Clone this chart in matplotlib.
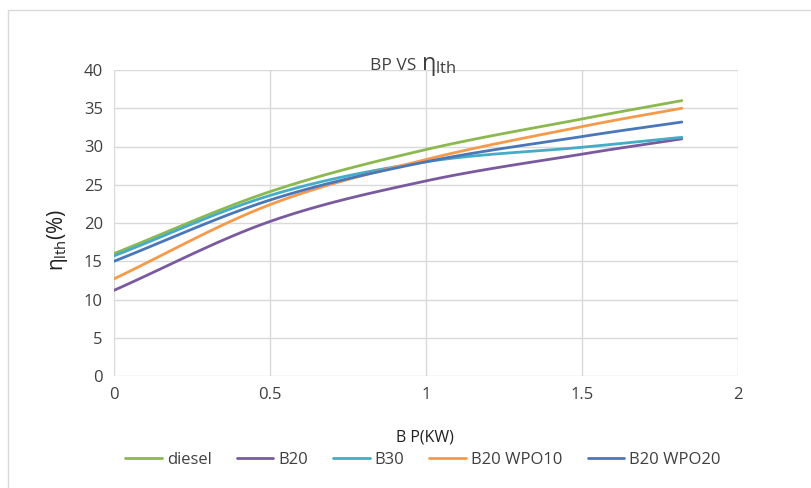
import numpy as np
import matplotlib.pyplot as plt
from matplotlib.patches import Rectangle

# brake power (kW)
bp = [0, 0.5, 1.0, 1.5, 1.82]

# brake thermal efficiency (%)
diesel = [16.0, 24.1, 29.6, 33.6, 36.0]
b20 = [11.2, 20.2, 25.5, 29.0, 31.0]
b30 = [15.7, 23.6, 28.0, 29.9, 31.2]
b20_wpo10 = [12.7, 22.4, 28.3, 32.6, 35.0]
b20_wpo20 = [15.0, 23.0, 28.0, 31.3, 33.2]

names = ['diesel', 'B20', 'B30', 'B20 WPO10', 'B20 WPO20']
colors = ['#8cb84f', '#7a5a9e', '#45acc6', '#f59a4a', '#4a77b8']


def smooth(x, y, n=30):
    # catmull-rom style smoothing like excel's smoothed line
    x = np.asarray(x, float)
    y = np.asarray(y, float)
    px = np.concatenate([[2 * x[0] - x[1]], x, [2 * x[-1] - x[-2]]])
    py = np.concatenate([[2 * y[0] - y[1]], y, [2 * y[-1] - y[-2]]])
    xs, ys = [], []
    t = np.linspace(0, 1, n)
    for i in range(1, len(px) - 2):
        p0, p1, p2, p3 = [np.array([px[j], py[j]]) for j in range(i - 1, i + 3)]
        c1 = p1 + (p2 - p0) / 6
        c2 = p2 - (p3 - p1) / 6
        pts = ((1 - t) ** 3)[:, None] * p1 + (3 * (1 - t) ** 2 * t)[:, None] * c1 \
            + (3 * (1 - t) * t ** 2)[:, None] * c2 + (t ** 3)[:, None] * p2
        xs.extend(pts[:, 0])
        ys.extend(pts[:, 1])
    return xs, ys


plt.rcParams['font.family'] = ['Open Sans', 'DejaVu Sans']
plt.rcParams['mathtext.fontset'] = 'custom'
plt.rcParams['mathtext.rm'] = 'Open Sans'
plt.rcParams['mathtext.it'] = 'Open Sans'
plt.rcParams['mathtext.bf'] = 'Open Sans:bold'

fig = plt.figure(figsize=(8.12, 4.88), dpi=100)
fig.patches.append(Rectangle((8 / 812, -0.1), 2, 1.1 - 10 / 488, transform=fig.transFigure,
                             fill=False, edgecolor='#d9d9d9', linewidth=1))
ax = fig.add_axes([114 / 812, 112 / 488, 624 / 812, 306 / 488])

for series, name, c in zip([diesel, b20, b30, b20_wpo10, b20_wpo20], names, colors):
    sx, sy = smooth(bp, series)
    ax.plot(sx, sy, color=c, linewidth=2, label=name, solid_capstyle='round')

ax.set_xlim(0, 2)
ax.set_ylim(0, 40)
ax.set_xticks([0, 0.5, 1, 1.5, 2])
ax.set_xticklabels(['0', '0.5', '1', '1.5', '2'])
ax.set_yticks(range(0, 41, 5))
ax.grid(True, color='#d9d9d9', linewidth=1)
ax.set_axisbelow(True)
for s in ax.spines.values():
    s.set_visible(False)
ax.tick_params(length=0, labelsize=12, colors='#404040', pad=8)

fig.text(421 / 812, 1 - 66 / 488, 'BP VS ', ha='right', va='center',
         fontsize=12.5, color='#404040')
fig.text(421 / 812, 1 - 66 / 488, r'$\eta_{\mathrm{lth}}$', ha='left', va='center',
         fontsize=17, color='#404040')
fig.text(57 / 812, 1 - 240 / 488, r'$\eta_{\mathrm{lth}}$(%)', rotation=90, ha='center', va='center',
         fontsize=15, color='#202020')
fig.text(425 / 812, 1 - 437 / 488, 'B P(KW)', ha='center', va='center', fontsize=11.5, color='#202020')

ax.legend(loc='center', bbox_to_anchor=(0.495, -0.275), ncol=5, frameon=False, fontsize=12,
          handlelength=2.2, handletextpad=0.3, columnspacing=1.5, labelcolor='#404040')

fig.savefig('out.png', dpi=100)
